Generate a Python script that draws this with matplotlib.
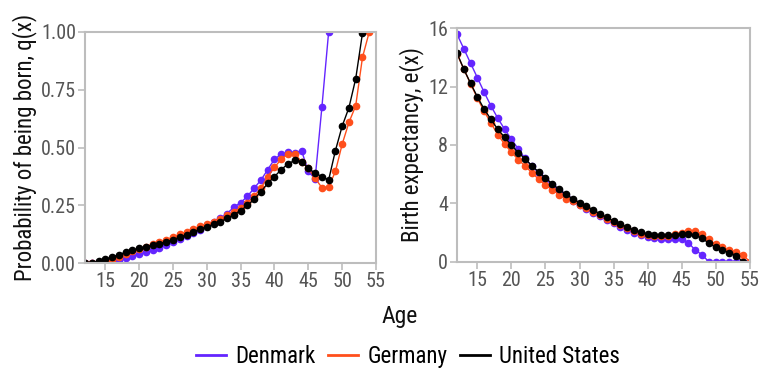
import numpy as np
import matplotlib
matplotlib.use("Agg")
import matplotlib.pyplot as plt
from matplotlib.ticker import FormatStrFormatter

plt.rcParams['font.family'] = ['Roboto Condensed', 'Liberation Sans Narrow', 'Roboto', 'DejaVu Sans']

# ages shown in both panels
ages = list(range(12, 56))

# probability of being born, q(x)
q_denmark = [0.0, 0.0, 0.002, 0.005, 0.010, 0.016, 0.024, 0.032, 0.040, 0.047,
             0.056, 0.066, 0.078, 0.090, 0.104, 0.118, 0.132, 0.146, 0.165, 0.178,
             0.195, 0.215, 0.243, 0.262, 0.290, 0.325, 0.360, 0.405, 0.450, 0.472,
             0.480, 0.478, 0.487, 0.397, 0.365, 0.674, 1.0]
q_germany = [0.0, 0.0, 0.003, 0.008, 0.016, 0.027, 0.040, 0.052, 0.063, 0.072,
             0.082, 0.092, 0.102, 0.113, 0.125, 0.137, 0.148, 0.160, 0.170, 0.180,
             0.192, 0.207, 0.223, 0.240, 0.262, 0.290, 0.325, 0.375, 0.415, 0.450,
             0.472, 0.472, 0.440, 0.410, 0.368, 0.327, 0.330, 0.397, 0.515, 0.609,
             0.681, 0.890, 1.0]
q_us = [0.0, 0.003, 0.009, 0.018, 0.027, 0.037, 0.048, 0.057, 0.065, 0.072,
        0.078, 0.085, 0.093, 0.102, 0.112, 0.123, 0.135, 0.147, 0.158, 0.168,
        0.180, 0.194, 0.210, 0.228, 0.250, 0.277, 0.310, 0.345, 0.375, 0.405,
        0.430, 0.445, 0.440, 0.410, 0.390, 0.375, 0.360, 0.487, 0.593, 0.673,
        0.798, 0.995]

# birth expectancy, e(x)
e_denmark = [15.6, 14.6, 13.6, 12.61, 11.61, 10.67, 9.83, 9.08, 8.39, 7.73,
             7.08, 6.55, 6.10, 5.65, 5.25, 4.85, 4.48, 4.15, 3.88, 3.60,
             3.35, 3.10, 2.85, 2.62, 2.40, 2.20, 2.00, 1.82, 1.70, 1.62,
             1.58, 1.57, 1.57, 1.55, 1.30, 0.80, 0.47, 0.0, 0.0, 0.0,
             0.0, 0.0, 0.0, 0.0]
e_germany = [14.25, 13.2, 12.2, 11.2, 10.3, 9.5, 8.7, 8.06, 7.5, 7.0,
             6.56, 6.1, 5.65, 5.24, 4.93, 4.6, 4.3, 4.15, 3.92, 3.70,
             3.44, 3.20, 2.96, 2.72, 2.50, 2.30, 2.10, 1.92, 1.83, 1.78,
             1.76, 1.78, 1.88, 2.00, 2.10, 2.10, 1.90, 1.53, 1.20, 0.98,
             0.80, 0.66, 0.48, 0.0]
e_us = [14.3, 13.2, 12.22, 11.3, 10.45, 9.75, 9.07, 8.53, 7.98, 7.48,
        7.05, 6.58, 6.15, 5.75, 5.33, 4.96, 4.62, 4.32, 4.05, 3.82,
        3.55, 3.28, 3.03, 2.80, 2.58, 2.37, 2.17, 2.02, 1.90, 1.82,
        1.81, 1.82, 1.86, 1.90, 1.90, 1.82, 1.60, 1.27, 0.98, 0.80,
        0.62, 0.42, 0.0]

countries = ['Denmark', 'Germany', 'United States']
colors = ['#6425ff', '#ff4f1c', '#000000']
q_values = [q_denmark, q_germany, q_us]
e_values = [e_denmark, e_germany, e_us]

fig = plt.figure(figsize=(7.59, 3.69), dpi=100)
ax1 = fig.add_axes([0.112, 0.2865, 0.3834, 0.6268])
ax2 = fig.add_axes([0.6021, 0.2908, 0.3856, 0.6325])

for name, col, q, e in zip(countries, colors, q_values, e_values):
    ax1.plot(ages[:len(q)], q, color=col, lw=1.0, marker='o', ms=4.5, label=name)
    ax2.plot(ages[:len(e)], e, color=col, lw=1.0, marker='o', ms=4.5)

ax1.set_xlim(12, 55)
ax1.set_ylim(0, 1)
ax1.set_yticks([0, 0.25, 0.5, 0.75, 1.0])
ax1.yaxis.set_major_formatter(FormatStrFormatter('%.2f'))
ax1.set_ylabel('Probability of being born, q(x)', fontsize=16.5, color='#111111', labelpad=3)

ax2.set_xlim(12, 55)
ax2.set_ylim(0, 16)
ax2.set_yticks([0, 4, 8, 12, 16])
ax2.set_ylabel('Birth expectancy, e(x)', fontsize=16.5, color='#111111', labelpad=3)

for ax in (ax1, ax2):
    ax.set_xticks(range(15, 56, 5))
    for s in ax.spines.values():
        s.set_color('#bdbdbd')
        s.set_linewidth(1.5)
    ax.tick_params(colors='#bdbdbd', labelcolor='#555555', labelsize=14.5,
                   length=5, width=1.2, pad=1.5)

fig.text(0.527, 0.143, 'Age', ha='center', va='center', fontsize=17, color='#111111')

handles = [plt.Line2D([], [], color=c, lw=2) for c in colors]
fig.legend(handles, countries, loc='center', bbox_to_anchor=(0.5375, 0.033), ncol=3,
           frameon=False, fontsize=16.5, handlelength=1.3, handletextpad=0.4,
           columnspacing=0.55, borderpad=0.1)

fig.savefig('out.png', dpi=100)
